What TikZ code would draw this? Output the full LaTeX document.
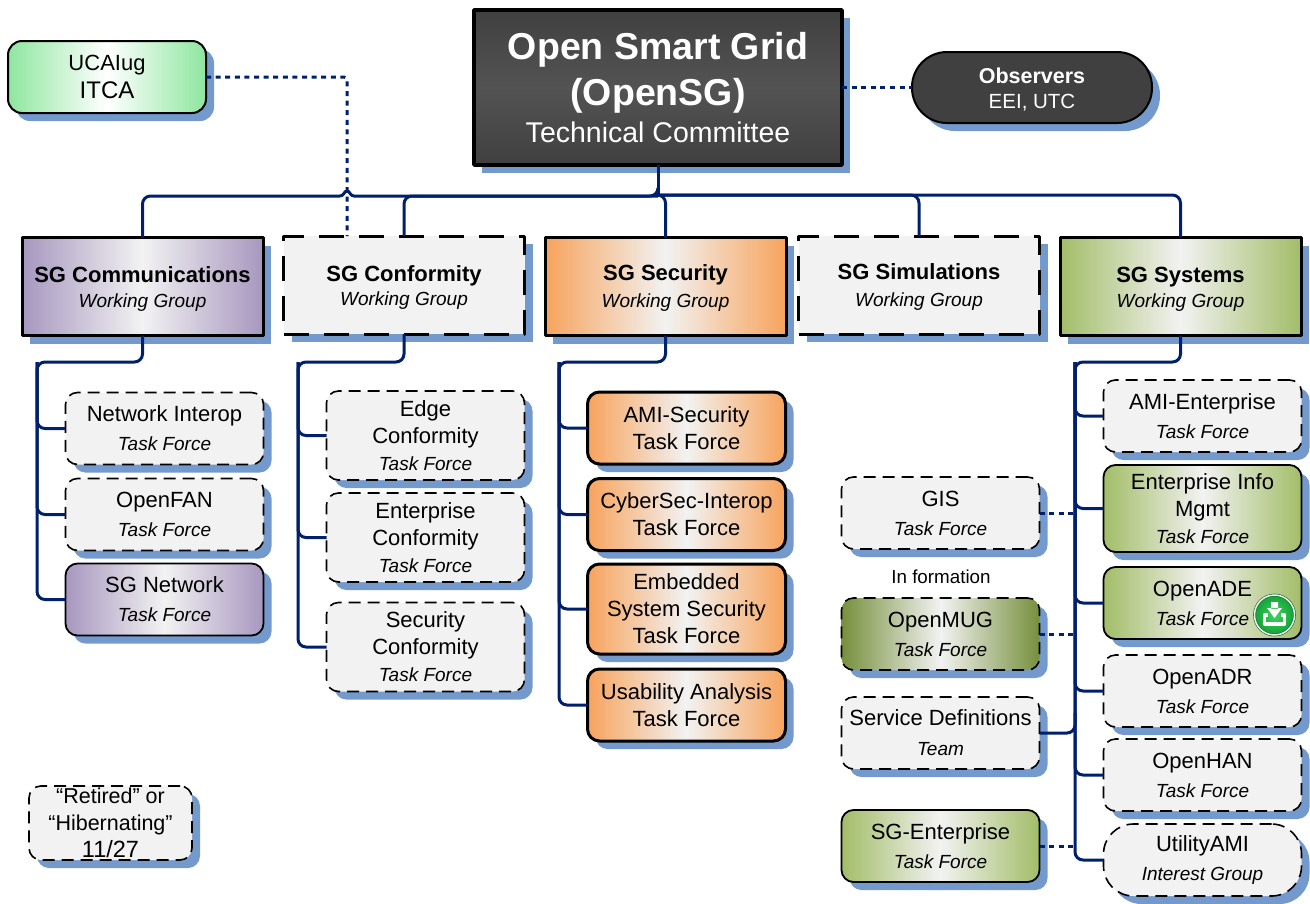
\documentclass[tikz,border=0pt]{standalone}
\usepackage{fontspec}
\setmainfont{Liberation Sans}
\usetikzlibrary{shadows,calc}
\definecolor{navy}{HTML}{00206B}
\definecolor{shblue}{HTML}{7499CC}
\definecolor{paleg}{HTML}{F2F2F2}
\definecolor{purp}{HTML}{A797BF}
\definecolor{orng}{HTML}{F7A35C}
\definecolor{grn}{HTML}{A2BD68}
\definecolor{olive}{HTML}{76903C}
\definecolor{mint}{HTML}{8EE69F}
\definecolor{coal}{HTML}{404040}
\definecolor{badgein}{HTML}{3FD65A}
\definecolor{badgeout}{HTML}{14A03A}
\newcommand{\tflarge}{\fontsize{22}{27}\selectfont}
\newcommand{\tfsub}{\fontsize{19}{24}\itshape\selectfont}
\begin{document}
\begin{tikzpicture}[x=1pt,y=-1pt,line join=round,
	blueshadow/.style={drop shadow={shadow xshift=8pt,shadow yshift=-8pt,opacity=1,fill=shblue}},
	wgroup/.style={draw=black,line width=3pt,blueshadow,minimum width=241pt,minimum height=98pt,inner sep=0pt,outer sep=0pt,align=center,font=\tflarge},
	wgoff/.style={wgroup,fill=paleg,dash pattern=on 25pt off 15pt},
	tforce/.style={draw=black,line width=1.8pt,rounded corners=12pt,blueshadow,minimum width=198pt,minimum height=72pt,inner sep=0pt,outer sep=0pt,align=center,font=\tflarge},
	tfoff/.style={tforce,fill=paleg,line width=1.6pt,dash pattern=on 12pt off 7pt},
	tfsec/.style={tforce,line width=3pt,left color=orng,right color=orng,middle color=paleg},
	tfgrn/.style={tforce,left color=grn,right color=grn,middle color=paleg},
	link/.style={draw=navy,line width=3pt,rounded corners=8pt},
	dots/.style={draw=navy,line width=3pt,dash pattern=on 5pt off 4.6pt,rounded corners=3pt}]
	\useasboundingbox (0,0) rectangle (1310,903);
	%Top
	\node[draw=black,line width=2pt,rounded corners=14pt,blueshadow,minimum width=198pt,minimum height=72pt,inner sep=0pt,outer sep=0pt,align=center,left color=mint,right color=mint,middle color=white] (ucaiug) at (107,77) {\fontsize{22}{27}\selectfont UCAIug\\[5pt]\fontsize{24}{27}\selectfont ITCA};
	\node[draw=black,line width=3.5pt,blueshadow,minimum width=368pt,minimum height=155pt,inner sep=0pt,outer sep=0pt,align=center,top color=coal,bottom color=coal,middle color=coal!90!white,text=white] (title) at (658,87.5) {\fontsize{37.5}{45}\bfseries\selectfont Open Smart Grid\\[10pt]\fontsize{37.5}{41}\bfseries\selectfont (OpenSG)\\[7pt]\fontsize{28.5}{36}\selectfont Technical Committee};
	\node[draw=black,line width=2pt,rounded corners=35pt,fill=coal,blueshadow,minimum width=240pt,minimum height=71pt,inner sep=0pt,outer sep=0pt,align=center,text=white,text height=45pt] (observers) at (1032,87.5) {\fontsize{21.5}{25}\bfseries\selectfont Observers\\[10pt]\fontsize{20.5}{25}\selectfont EEI, UTC};
	%Working groups
	\node[wgroup,text height=45pt,left color=purp,right color=purp,middle color=paleg] (wgcomm) at (142.5,286.5) {\bfseries SG Communications\\[-2pt]\tfsub Working Group};
	\node[wgoff,text height=44pt] (wgconf) at (404,285) {\bfseries SG Conformity\\[-3pt]\tfsub Working Group};
	\node[wgroup,text height=45pt,left color=orng,right color=orng,middle color=paleg] (wgsec) at (665.5,286.5) {\bfseries SG Security\\\tfsub Working Group};
	\node[wgoff,text height=47pt] (wgsim) at (919,285) {\bfseries SG Simulations\\\tfsub Working Group};
	\node[wgroup,text height=45pt,left color=grn,right color=grn,middle color=paleg] (wgsys) at (1180.5,286.5) {\bfseries SG Systems\\[-2pt]\tfsub Working Group};
	%Task forces, communications
	\node[tfoff] (tfnet) at (164.5,428.5) {Network Interop\\[2pt]\tfsub Task Force};
	\node[tfoff] (tffan) at (164.5,514.5) {OpenFAN\\[2pt]\tfsub Task Force};
	\node[tforce,left color=purp,right color=purp,middle color=paleg] (tfsgnet) at (164.5,599.5) {SG Network\\[2pt]\tfsub Task Force};
	%Task forces, conformity
	\node[tfoff,minimum height=89pt] (tfedge) at (425.5,435.5) {Edge\\Conformity\\\tfsub Task Force};
	\node[tfoff,minimum height=89pt] (tfent) at (425.5,537.5) {Enterprise\\Conformity\\\tfsub Task Force};
	\node[tfoff,minimum height=89pt] (tfsecur) at (425.5,647) {Security\\Conformity\\\tfsub Task Force};
	%Task forces, security
	\node[tfsec] (tfami) at (686.5,428) {AMI-Security\\Task Force};
	\node[tfsec] (tfcyber) at (686.5,514.5) {CyberSec-Interop\\Task Force};
	\node[tfsec,minimum height=90pt] (tfembed) at (686.5,609) {Embedded\\System Security\\Task Force};
	\node[tfsec] (tfusab) at (686.5,705) {Usability Analysis\\Task Force};
	%Task forces, systems
	\node[tfoff] (tfamient) at (1202.5,416) {AMI-Enterprise\\[2pt]\tfsub Task Force};
	\node[tfgrn,minimum height=87pt] (tfinfo) at (1202.5,508.5) {Enterprise Info\\Mgmt\\\tfsub Task Force};
	\node[tfgrn] (tfade) at (1202.5,603) {OpenADE\\[2pt]\tfsub Task Force};
	\node[tfoff] (tfadr) at (1202.5,691) {OpenADR\\[2pt]\tfsub Task Force};
	\node[tfoff] (tfhan) at (1202.5,775) {OpenHAN\\[2pt]\tfsub Task Force};
	\node[tfoff,rounded corners=30pt] (tfutil) at (1202.5,860) {UtilityAMI\\[2pt]\tfsub Interest Group};
	%Side groups
	\node[tfoff] (tfgis) at (940.5,513) {GIS\\[2pt]\tfsub Task Force};
	\node[font=\fontsize{18.8}{20}\selectfont] (formation) at (941,577) {In formation};
	\node[tfoff,fill=none,left color=olive,right color=olive,middle color=paleg] (tfmug) at (940.5,634) {OpenMUG\\[2pt]\tfsub Task Force};
	\node[tfoff] (tfserv) at (940.5,733) {Service Definitions\\[3pt]\tfsub Team};
	\node[tfgrn] (tfsgent) at (940.5,846) {SG-Enterprise\\[2pt]\tfsub Task Force};
	%Legend
	\node[tfoff,minimum width=163pt,minimum height=74pt] (retired) at (110.5,823) {\fontsize{21.5}{26}\selectfont “Retired” or\\\fontsize{21.5}{28}\selectfont “Hibernating”\\\fontsize{23.5}{28}\selectfont 11/27};
	%Download badge
	\node[circle,draw=badgeout!70!black,double=paleg,double distance=1.5pt,line width=.6pt,minimum size=40pt,inner sep=0pt,inner color=badgein,outer color=badgeout] (adebadge) at (1274.5,615) {};
	\fill[white] (1271,602) rectangle (1278,609) (1267,608)--(1282,608)--(1274.5,618)--cycle;
	\draw[white,line width=3.5pt] (1268,615)--(1264.5,615)--(1264.5,624)--(1284.5,624)--(1284.5,615)--(1281,615);
	%Top bus
	\coordinate (bus) at (658,195);
	\coordinate (hop) at (347,196);
	\draw[link] (title.south)--(bus);
	\draw[link] (bus)-|(wgsec.north);
	\draw[link] (bus)-|(wgsim.north);
	\draw[link] (bus)-|(wgsys.north);
	\draw[link] (bus)|-($(bus)+(0,1)$)-|(wgconf.north);
	\draw[draw=navy,line width=3pt] ($(bus)+(0,1)$)--($(hop)+(7,0)$)..controls ($(hop)+(3,0)$) and ($(hop)+(3,-5)$)..($(hop)+(0,-5)$)..controls ($(hop)+(-3,-5)$) and ($(hop)+(-3,0)$)..($(hop)+(-7,0)$);
	\draw[link] ($(hop)+(-7,0)$)-|(wgcomm.north);
	%Dotted links
	\draw[dots] (ucaiug.east)-|(hop|-wgconf.north);
	\draw[dots] (title.east)--(observers.west);
	%Communications
	\coordinate (buscomm) at (37,362);
	\draw[link] (wgcomm.south)|-(buscomm)|-(tfsgnet.west);
	\draw[link] (buscomm)|-(tfnet.west);
	\draw[link] (buscomm)|-(tffan.west);
	%Conformity
	\coordinate (busconf) at (298,362);
	\draw[link] (wgconf.south)|-(busconf)|-(tfsecur.west);
	\draw[link] (busconf)|-(tfedge.west);
	\draw[link] (busconf)|-(tfent.west);
	%Security
	\coordinate (bussec) at (559,362);
	\draw[link] (wgsec.south)|-(bussec)|-(tfusab.west);
	\draw[link] (bussec)|-(tfami.west);
	\draw[link] (bussec)|-(tfcyber.west);
	\draw[link] (bussec)|-(tfembed.west);
	%Systems
	\coordinate (bussys) at (1075,362);
	\draw[link] (wgsys.south)|-(bussys)|-(tfutil.west);
	\draw[link] (bussys)|-(tfamient.west);
	\draw[link] (bussys)|-(tfinfo.west);
	\draw[link] (bussys)|-(tfade.west);
	\draw[link] (bussys)|-(tfadr.west);
	\draw[link] (bussys)|-(tfhan.west);
	%Side links
	\draw[dots] (tfgis.east)--(bussys|-tfgis.east);
	\draw[dots] (tfmug.east)--(bussys|-tfmug.east);
	\draw[dots] (tfsgent.east)--(bussys|-tfsgent.east);
	\draw[link] (tfserv.east)-|($(bussys|-tfserv.east)+(0,-20)$);
\end{tikzpicture}
\end{document}
